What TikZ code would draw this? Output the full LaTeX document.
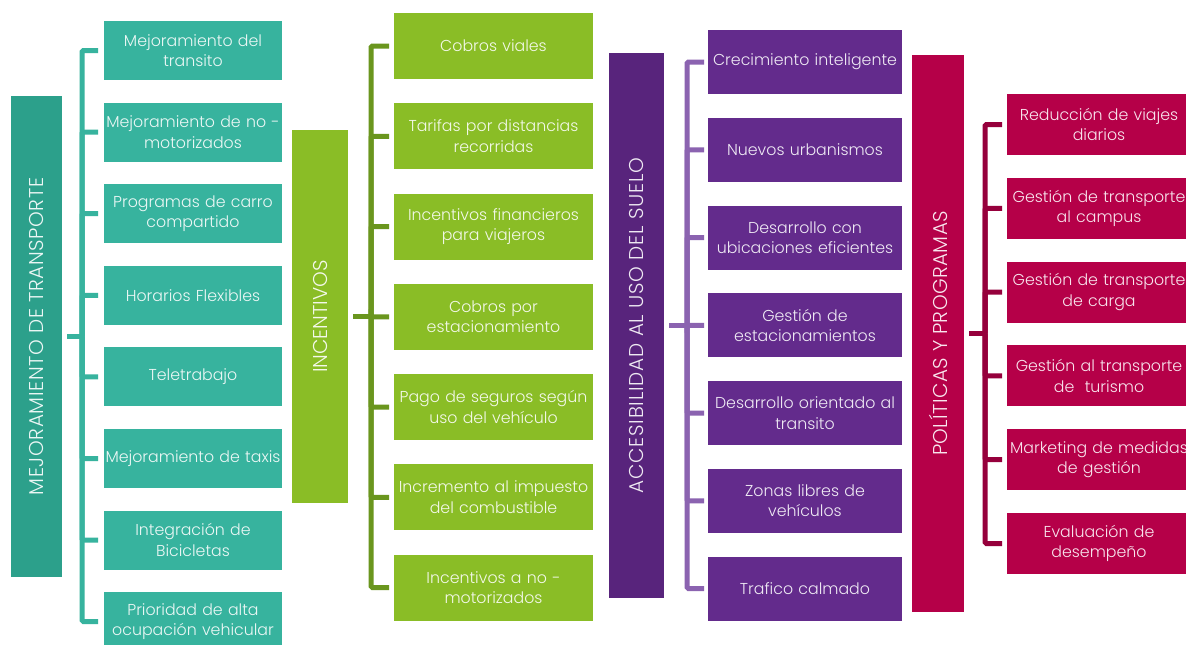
\documentclass[tikz,border=0pt]{standalone}
\usepackage{fontspec}
\IfFontExistsTF{Poppins Light}{\setmainfont{Poppins Light}}{\setmainfont{Poppins}}
\definecolor{tealK}{HTML}{37B39E}
\definecolor{tealM}{HTML}{2CA08B}
\definecolor{greenK}{HTML}{8ABD26}
\definecolor{greenM}{HTML}{8ABD26}
\definecolor{greenB}{HTML}{6A961E}
\definecolor{purpK}{HTML}{632B8C}
\definecolor{purpM}{HTML}{58247C}
\definecolor{purpB}{HTML}{8B63B0}
\definecolor{crimK}{HTML}{B50048}
\definecolor{crimM}{HTML}{B50048}
\definecolor{crimB}{HTML}{96003C}
\begin{document}
\begin{tikzpicture}[x=1pt,y=-1pt,
  kid/.style 2 args={rectangle, fill=#1, text=white!90!#1, outer sep=0pt, inner sep=0pt,
    minimum height=#2, align=center, font=\fontsize{15.8}{20.5}\selectfont},
  kidA/.style={kid={tealK}{59pt}, text width=178pt, minimum width=178pt},
  kidB/.style={kid={greenK}{66pt}, text width=199pt, minimum width=199pt},
  kidC/.style={kid={purpK}{64pt}, text width=194pt, minimum width=194pt},
  kidD/.style={kid={crimK}{61pt}, text width=184pt, minimum width=184pt},
  mainbox/.style={rectangle, fill=#1, outer sep=0pt, inner sep=0pt},
  vtext/.style 2 args={rotate=90, text=white!90!#1, font=\fontsize{20}{24}\selectfont\addfontfeature{LetterSpace=#2}, inner sep=0pt},
  br/.style={draw=#1, line width=5pt, rounded corners=1.5pt}
]
\useasboundingbox (0,0) rectangle (1186,645);
\fill[white] (0,0) rectangle (1186,645);

% ---------- Column A ----------
\node[mainbox=tealM, minimum width=51pt, minimum height=481pt] (A) at (36.5,336.5) {};
\node[vtext={tealM}{3}] (At) at (A.center) {MEJORAMIENTO DE TRANSPORTE};
\node[kidA] (A1) at (193,50.5) {Mejoramiento del\\transito};
\node[kidA] (A2) at (193,132.1) {Mejoramiento de no -\\motorizados};
\node[kidA] (A3) at (193,213.7) {Programas de carro\\compartido};
\node[kidA] (A4) at (193,295.3) {Horarios Flexibles};
\node[kidA] (A5) at (193,376.9) {Teletrabajo};
\node[kidA] (A6) at (193,458.5) {Mejoramiento de taxis};
\node[kidA] (A7) at (193,540.1) {Integración de\\Bicicletas};
\node[kidA] (A8) at (193,621.7) {Prioridad de alta\\ocupación vehicular};
\coordinate (jA) at ([xshift=20pt]A.east);
\draw[br=tealK] ([xshift=5pt]A.east) -- (jA);
\foreach \i in {1,...,8}{\draw[br=tealK] (jA) |- ([xshift=-6pt]A\i.west);}

% ---------- Column B ----------
\node[mainbox=greenM, minimum width=56pt, minimum height=373pt] (B) at (320,316.5) {};
\node[vtext={greenM}{0}] (Bt) at (B.center) {INCENTIVOS};
\node[kidB] (B1) at (493.5,46) {Cobros viales};
\node[kidB] (B2) at (493.5,136.25) {Tarifas por distancias\\recorridas};
\node[kidB] (B3) at (493.5,226.5) {Incentivos financieros\\para viajeros};
\node[kidB] (B4) at (493.5,316.75) {Cobros por\\estacionamiento};
\node[kidB] (B5) at (493.5,407) {Pago de seguros según\\uso del vehículo};
\node[kidB] (B6) at (493.5,497.25) {Incremento al impuesto\\del combustible};
\node[kidB] (B7) at (493.5,587.5) {Incentivos a no -\\motorizados};
\coordinate (jB) at ([xshift=23pt]B.east);
\draw[br=greenB] ([xshift=5pt]B.east) -- (jB);
\foreach \i in {1,...,7}{\draw[br=greenB] (jB) |- ([xshift=-5pt]B\i.west);}

% ---------- Column C ----------
\node[mainbox=purpM, minimum width=55pt, minimum height=545pt] (C) at (636.5,325.5) {};
\node[vtext={purpM}{4}] (Ct) at (C.center) {ACCESIBILIDAD AL USO DEL SUELO};
\node[kidC] (C1) at (805,62) {Crecimiento inteligente};
\node[kidC] (C2) at (805,149.75) {Nuevos urbanismos};
\node[kidC] (C3) at (805,237.5) {Desarrollo con\\ubicaciones eficientes};
\node[kidC] (C4) at (805,325.25) {Gestión de\\estacionamientos};
\node[kidC] (C5) at (805,413) {Desarrollo orientado al\\transito};
\node[kidC] (C6) at (805,500.75) {Zonas libres de\\vehículos};
\node[kidC] (C7) at (805,588.5) {Trafico calmado};
\coordinate (jC) at ([xshift=23pt]C.east);
\draw[br=purpB] ([xshift=5pt]C.east) -- (jC);
\foreach \i in {1,...,7}{\draw[br=purpB] (jC) |- ([xshift=-4pt]C\i.west);}

% ---------- Column D ----------
\node[mainbox=crimM, minimum width=52pt, minimum height=557pt] (D) at (938,333.5) {};
\node[vtext={crimM}{2}] (Dt) at (D.center) {POLÍTICAS Y PROGRAMAS};
\node[kidD] (D1) at (1099,124.5) {Reducción de viajes\\diarios};
\node[kidD] (D2) at (1099,208.3) {Gestión de transporte\\al campus};
\node[kidD] (D3) at (1099,292.1) {Gestión de transporte\\de carga};
\node[kidD] (D4) at (1099,375.9) {Gestión al transporte\\de\ \ turismo};
\node[kidD] (D5) at (1099,459.7) {Marketing de medidas\\de gestión};
\node[kidD] (D6) at (1099,543.5) {Evaluación de\\desempeño};
\coordinate (jD) at ([xshift=21pt]D.east);
\draw[br=crimB] ([xshift=5pt]D.east) -- (jD);
\foreach \i in {1,...,6}{\draw[br=crimB] (jD) |- ([xshift=-5pt]D\i.west);}
\end{tikzpicture}
\end{document}
